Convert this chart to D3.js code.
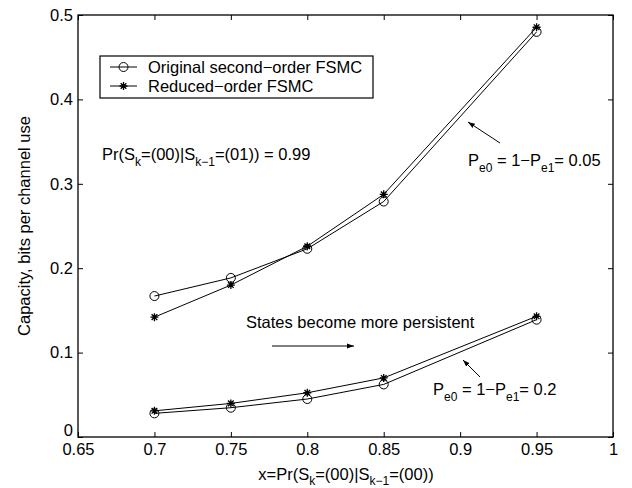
<!DOCTYPE html>
<html>
<head>
<meta charset="utf-8">
<script src="https://cdn.jsdelivr.net/npm/d3@7"></script>
<style>
  body { margin: 0; background: #fff; }
  svg { font-family: "Liberation Sans", Arial, sans-serif; }
</style>
</head>
<body>
<div id="container"></div>
<script>
const xValues = [0.7, 0.75, 0.8, 0.85, 0.95];
const upperOriginal = [0.167, 0.1885, 0.223, 0.279, 0.480];
const upperReduced = [0.142, 0.180, 0.226, 0.2875, 0.4855];
const lowerOriginal = [0.028, 0.0347, 0.045, 0.0623, 0.139];
const lowerReduced = [0.031, 0.0398, 0.0524, 0.070, 0.143];
const xTicks = [0.65, 0.7, 0.75, 0.8, 0.85, 0.9, 0.95, 1];
const yTicks = [0, 0.1, 0.2, 0.3, 0.4, 0.5];

const width = 632, height = 488;
const margin = { left: 78, right: 19, top: 15, bottom: 51 };
const fs = 16.5, subFs = 12, subDy = 6;

const x = d3.scaleLinear().domain([0.65, 1]).range([margin.left, width - margin.right]);
const y = d3.scaleLinear().domain([0, 0.5]).range([height - margin.bottom, margin.top]);

const svg = d3.create("svg")
    .attr("width", width)
    .attr("height", height);

svg.append("defs").append("marker")
    .attr("id", "arrow")
    .attr("viewBox", "0 0 10 10")
    .attr("refX", 10).attr("refY", 5)
    .attr("markerWidth", 7).attr("markerHeight", 7)
    .attr("markerUnits", "userSpaceOnUse")
    .attr("orient", "auto")
    .append("path")
    .attr("d", "M0,1.5L10,5L0,8.5z")
    .attr("fill", "#000");

// frame
svg.append("rect")
    .attr("x", x(0.65)).attr("y", y(0.5))
    .attr("width", x(1) - x(0.65)).attr("height", y(0) - y(0.5))
    .attr("fill", "none").attr("stroke", "#000").attr("stroke-width", 1.3);

const tickLen = 5;
const fmt = d => String(d);

// axes (ticks inward)
const xAxis = svg.append("g").attr("transform", `translate(0,${y(0)})`)
    .call(d3.axisBottom(x).tickValues(xTicks).tickSize(-tickLen).tickPadding(8).tickFormat(fmt));
const xTop = svg.append("g").attr("transform", `translate(0,${y(0.5)})`)
    .call(d3.axisTop(x).tickValues(xTicks).tickSize(-tickLen).tickFormat(""));
const yAxis = svg.append("g").attr("transform", `translate(${x(0.65)},0)`)
    .call(d3.axisLeft(y).tickValues(yTicks).tickSize(-tickLen).tickPadding(5).tickFormat(fmt));
const yRight = svg.append("g").attr("transform", `translate(${x(1)},0)`)
    .call(d3.axisRight(y).tickValues(yTicks).tickSize(-tickLen).tickFormat(""));

[xAxis, xTop, yAxis, yRight].forEach(a => {
    a.select(".domain").remove();
    a.selectAll("line").attr("stroke", "#000");
    a.selectAll("text").attr("font-size", fs).attr("fill", "#000")
        .attr("font-family", "Liberation Sans, Arial, sans-serif");
});
xAxis.selectAll("text").attr("dy", "0.62em");
// the zero label sits on the axis line, clear of the x tick labels
yAxis.selectAll(".tick text").filter(d => d === 0).attr("dy", "-0.08em");

// series
const line = d3.line().x(d => x(d[0])).y(d => y(d[1]));
const series = [
    { vals: upperOriginal, mark: "circle" },
    { vals: upperReduced, mark: "star" },
    { vals: lowerOriginal, mark: "circle" },
    { vals: lowerReduced, mark: "star" }
];

function drawMarker(g, type, cx, cy) {
    if (type === "circle") {
        g.append("circle").attr("cx", cx).attr("cy", cy).attr("r", 4.5)
            .attr("fill", "none").attr("stroke", "#000").attr("stroke-width", 1);
    } else {
        const r = 4;
        const p = [];
        for (let i = 0; i < 4; i++) {
            const a = i * Math.PI / 4;
            p.push(`M${cx - r * Math.cos(a)},${cy - r * Math.sin(a)}L${cx + r * Math.cos(a)},${cy + r * Math.sin(a)}`);
        }
        g.append("path").attr("d", p.join("")).attr("stroke", "#000").attr("stroke-width", 1.3);
    }
}

series.forEach(s => {
    const pts = xValues.map((v, i) => [v, s.vals[i]]);
    svg.append("path").datum(pts).attr("d", line)
        .attr("fill", "none").attr("stroke", "#000").attr("stroke-width", 1);
    const g = svg.append("g");
    pts.forEach(p => drawMarker(g, s.mark, x(p[0]), y(p[1])));
});

// legend
const lg = svg.append("g");
lg.append("rect").attr("x", 100).attr("y", 56).attr("width", 273).attr("height", 42)
    .attr("fill", "#fff").attr("stroke", "#000").attr("stroke-width", 1.2);
[["circle", "Original second\u2212order FSMC", 67], ["star", "Reduced\u2212order FSMC", 86]].forEach(([m, t, yy]) => {
    lg.append("line").attr("x1", 110).attr("x2", 137).attr("y1", yy).attr("y2", yy).attr("stroke", "#000");
    drawMarker(lg, m, 123.5, yy);
    lg.append("text").attr("x", 148).attr("y", yy + 6).attr("font-size", fs).text(t);
});

// text with subscripts
function richText(xp, yp, parts, dy = subDy) {
    const t = svg.append("text").attr("x", xp).attr("y", yp).attr("font-size", fs).attr("fill", "#000");
    let prevSub = false;
    parts.forEach(([s, sub]) => {
        const ts = t.append("tspan").text(s);
        if (sub && !prevSub) ts.attr("dy", dy);
        if (!sub && prevSub) ts.attr("dy", -dy);
        if (sub) ts.attr("font-size", subFs);
        prevSub = sub;
    });
    return t;
}

richText(102, 160, [["Pr(S", false], ["k", true], ["=(00)|S", false], ["k\u22121", true], ["=(01)) = 0.99", false]]);
richText(468, 166, [["P", false], ["e0", true], [" = 1\u2212P", false], ["e1", true], ["= 0.05", false]]);
richText(433, 395, [["P", false], ["e0", true], [" = 1\u2212P", false], ["e1", true], ["= 0.2", false]]);
svg.append("text").attr("x", 246).attr("y", 328).attr("font-size", fs).text("States become more persistent");

function arrow(x1, y1, x2, y2) {
    svg.append("line").attr("x1", x1).attr("y1", y1).attr("x2", x2).attr("y2", y2)
        .attr("stroke", "#000").attr("stroke-width", 1).attr("marker-end", "url(#arrow)");
}
arrow(500, 143, 468, 122);
arrow(272, 346, 354, 346);
arrow(480, 377, 463, 360);

// axis labels
richText(346, 480, [["x=Pr(S", false], ["k", true], ["=(00)|S", false], ["k\u22121", true], ["=(00))", false]], 5)
    .attr("text-anchor", "middle");
svg.append("text")
    .attr("transform", `translate(30,${(y(0) + y(0.5)) / 2}) rotate(-90)`)
    .attr("text-anchor", "middle").attr("font-size", fs)
    .text("Capacity, bits per channel use");

document.getElementById("container").append(svg.node());
</script>
</body>
</html>
